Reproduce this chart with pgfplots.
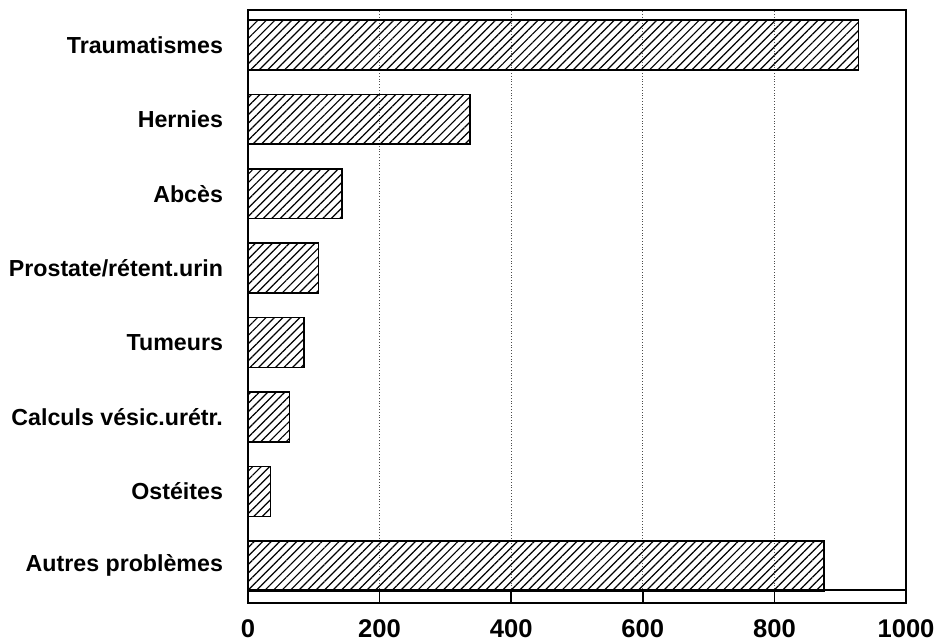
\documentclass[border=0pt]{standalone}
\usepackage{fontspec}
\setmainfont{Liberation Sans}
\usepackage{pgfplots}
\pgfplotsset{compat=1.18}
\usetikzlibrary{patterns.meta}
\begin{document}
\begin{tikzpicture}
\begin{axis}[
  at={(0,0)}, anchor=south west,
  width=329pt, height=296.5pt, scale only axis,
  xbar, bar width=0.67,
  xmin=0, xmax=1000, ymin=-0.5, ymax=7.47,
  xtick={0,200,400,600,800,1000},
  ytick={0,1,2,3,4,5,6,7},
  yticklabels={Autres problèmes,Ostéites,Calculs vésic.urétr.,Tumeurs,Prostate/rétent.urin,Abcès,Hernies,Traumatismes},
  xtick pos=bottom, ytick pos=left,
  tick align=inside,
  major tick length=6.5pt,
  ytick style={draw=none},
  xticklabel style={font=\fontsize{12.8}{14}\selectfont\bfseries, yshift=-5pt},
  yticklabel style={font=\fontsize{11.6}{13}\selectfont\bfseries, xshift=-9pt},
  /pgf/number format/assume math mode=true,
  /pgf/number format/1000 sep={},
  xmajorgrids,
  major grid style={densely dotted, gray!60!black, line width=0.5pt},
  axis line style={line width=1pt},
  tick style={line width=0.8pt, black},
]
\draw[line width=0.8pt] ([yshift=6.5pt]rel axis cs:0,0) -- ([yshift=6.5pt]rel axis cs:1,0);
\addplot[draw=black, line width=0.8pt, pattern={Lines[angle=45, distance=3pt, line width=0.6pt]}, pattern color=black]
  coordinates {(875,0) (34,1) (63,2) (85,3) (107,4) (143,5) (337,6) (928,7)};
\end{axis}
\pgfresetboundingbox
\useasboundingbox (-124pt,-20pt) rectangle (346pt,301.5pt);
\end{tikzpicture}
\end{document}
